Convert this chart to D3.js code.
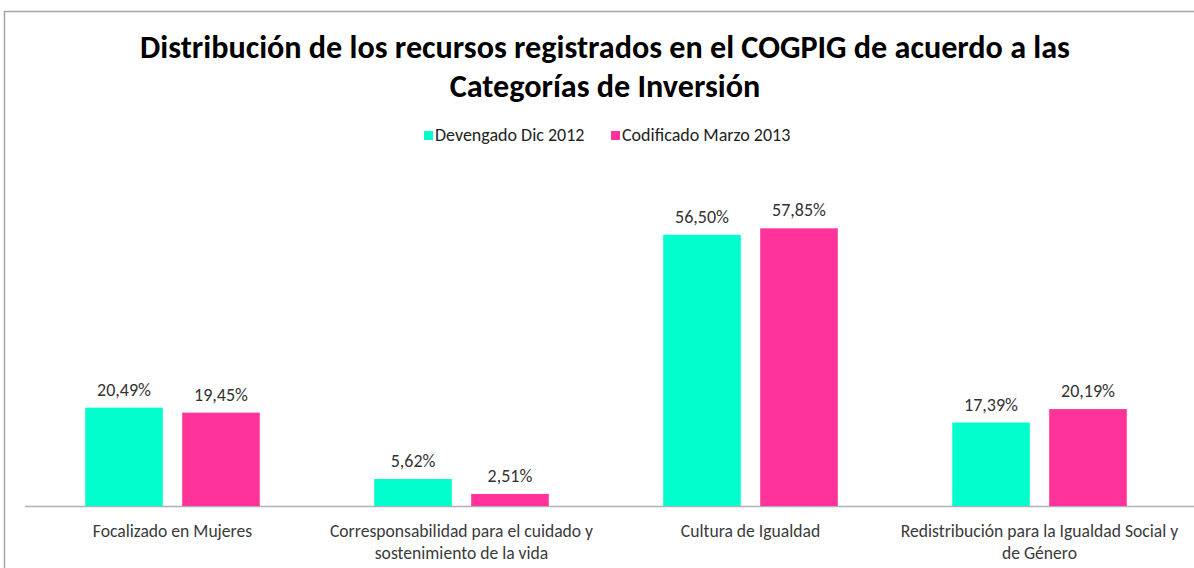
<!DOCTYPE html>
<html><head><meta charset="utf-8">
<script src="https://cdn.jsdelivr.net/npm/d3@7"></script>
<style>body{margin:0;background:#fff}svg{display:block}</style>
</head><body><svg id="c" width="1194" height="568"></svg>
<script>
const categories = [
  ["Focalizado en Mujeres"],
  ["Corresponsabilidad para el cuidado y", "sostenimiento de la vida"],
  ["Cultura de Igualdad"],
  ["Redistribución para la Igualdad Social y", "de Género"]
];
const seriesNames = ["Devengado Dic 2012", "Codificado Marzo 2013"];
const devengado = [20.49, 5.62, 56.50, 17.39];
const codificado = [19.45, 2.51, 57.85, 20.19];
const colors = ["#00FFCC", "#FF3399"];
const titleLines = ["Distribución de los recursos registrados en el COGPIG de acuerdo a las", "Categorías de Inversión"];

const svg = d3.select("#c");
const font = "Calibri, Carlito, 'Open Sans', 'Noto Sans', sans-serif";

// frame
svg.append("path").attr("d","M4.5,568 V11.5 H1194").attr("fill","none").attr("stroke","#a6a6a6").attr("stroke-width",1.5);

const x0 = d3.scaleBand().domain(d3.range(categories.length)).range([28, 1184]);
const x1 = d3.scaleBand().domain([0,1]).range([0, x0.bandwidth()]).paddingInner(0.2).paddingOuter(0.59);
const y = d3.scaleLinear().domain([0,70]).range([506,170]);

const data = categories.map((c,i)=>({i, vals:[devengado[i], codificado[i]]}));

// baseline
svg.append("line").attr("x1",25).attr("x2",1194).attr("y1",y(0)+0.5).attr("y2",y(0)+0.5).attr("stroke","#b0b0b0").attr("stroke-width",1.5);

const g = svg.selectAll("g.cat").data(data).enter().append("g").attr("transform",d=>`translate(${x0(d.i)},0)`);
g.selectAll("rect").data(d=>d.vals.map((v,s)=>({v,s}))).enter().append("rect")
  .attr("x",d=>x1(d.s)).attr("width",x1.bandwidth())
  .attr("y",d=>y(d.v)).attr("height",d=>y(0)-y(d.v)).attr("fill",d=>colors[d.s]);
g.selectAll("text.val").data(d=>d.vals.map((v,s)=>({v,s}))).enter().append("text")
  .attr("x",d=>x1(d.s)+x1.bandwidth()/2).attr("y",d=>y(d.v)-12)
  .attr("text-anchor","middle").attr("font-family",font).attr("font-size",18).attr("fill","#333")
  .text(d=>d.v.toFixed(2).replace(".",",")+"%");

// category labels (one text element per line)
g.each(function(d){
  const sel = d3.select(this);
  categories[d.i].forEach((line,k)=>{
    sel.append("text").attr("text-anchor","middle").attr("font-family",font).attr("font-size",17.6).attr("fill","#3a3a3a")
      .attr("x",x0.bandwidth()/2).attr("y",537+k*21.5).text(line);
  });
});

// title
titleLines.forEach((line,k)=>{
  svg.append("text").attr("class","title").attr("x",605).attr("y",[58,97][k]).attr("text-anchor","middle")
    .attr("font-family",font).attr("font-weight","bold").attr("font-size",27).attr("fill","#000").text(line);
});
{
  const t0 = svg.select("text.title");
  const w = t0.node().getComputedTextLength();
  svg.selectAll("text.title").attr("font-size",27*930/w);
}

// legend
const legX = [424, 611];
seriesNames.forEach((n,s)=>{
  svg.append("rect").attr("x",legX[s]).attr("y",131).attr("width",9).attr("height",9).attr("fill",colors[s]);
  svg.append("text").attr("x",legX[s]+11).attr("y",141).attr("font-family",font).attr("font-size",18).attr("fill","#222").text(n);
});
</script></body></html>
